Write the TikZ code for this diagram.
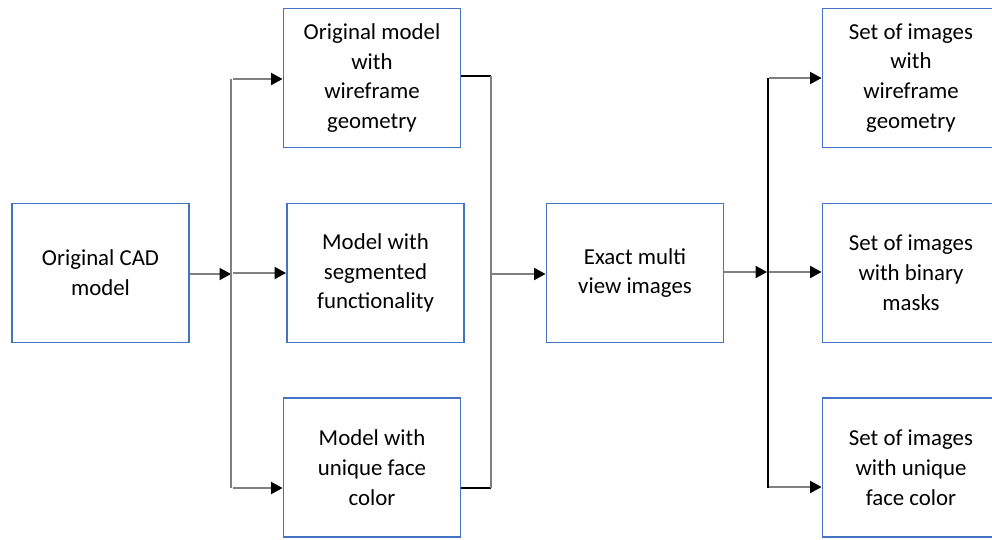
\documentclass[tikz,border=0pt]{standalone}
\usepackage{fontspec}
\setmainfont{Carlito}
\usepackage{tikz}
\usetikzlibrary{arrows.meta,calc,positioning}
\definecolor{frame}{HTML}{4472C4}
\definecolor{wire}{HTML}{7F7F7F}

\begin{document}
\begin{tikzpicture}[x=0.02cm,y=-0.02cm,font=\fontsize{13pt}{17pt}\selectfont,>={Triangle[length=0.23cm,width=0.24cm,black]},
  stage/.style={draw=frame,line width=1.1pt,minimum width=3.54cm,minimum height=2.78cm,align=center,inner sep=0pt},
  link/.style={draw=wire,line width=1.1pt},
  tie/.style={draw=black,line width=1.1pt}]
\useasboundingbox (0,0) rectangle (992,539);
% input model and its three variants
\node[stage] (cad) at (100.5,273) {Original CAD\\model};
\node[stage] (wireframe) at (372,78) {Original model\\with\\wireframe\\geometry};
\node[stage] (seg) at (375.5,273) {Model with\\segmented\\functionality};
\node[stage] (face) at (372,467.5) {Model with\\unique face\\color};
% rendering and the three image sets
\node[stage] (exact) at (635,273) {Exact multi\\view images};
\node[stage] (setwire) at (911,78) {Set of images\\with\\wireframe\\geometry};
\node[stage] (setmask) at (911,273) {Set of images\\with binary\\masks};
\node[stage] (setface) at (911,467.5) {Set of images\\with unique\\face color};
% split after the CAD model
\coordinate (s1) at (231,274);
\coordinate (s1t) at (231,79);
\coordinate (s1b) at (231,488);
\draw[link,->] (cad.east |- s1) -- (s1);
\draw[link] (s1t) -- (s1b);
\draw[link,->] (233,79) -- (wireframe.west |- s1t);
\draw[link,->] (233,273) -- (seg.west |- 0,273);
\draw[link,->] (233,488) -- (face.west |- s1b);
% merge into the renderer
\coordinate (m1t) at (491,76);
\coordinate (m1b) at (491,488);
\draw[tie] (wireframe.east |- m1t) -- (m1t);
\draw[tie] (face.east |- m1b) -- (m1b);
\draw[link] (m1t) -- (m1b);
\draw[link,->] (491,274) -- (exact.west |- 0,274);
% split into the image sets
\coordinate (s2) at (767,272);
\draw[link,->] (exact.east |- s2) -- (s2);
\draw[black,line width=0.6pt] (768,78) -- (768,488);
\draw[link,->] (769,78) -- (setwire.west |- 0,78);
\draw[link,->] (769,272) -- (setmask.west |- 0,272);
\draw[link,->] (769,487) -- (setface.west |- 0,487);
\end{tikzpicture}
\end{document}
